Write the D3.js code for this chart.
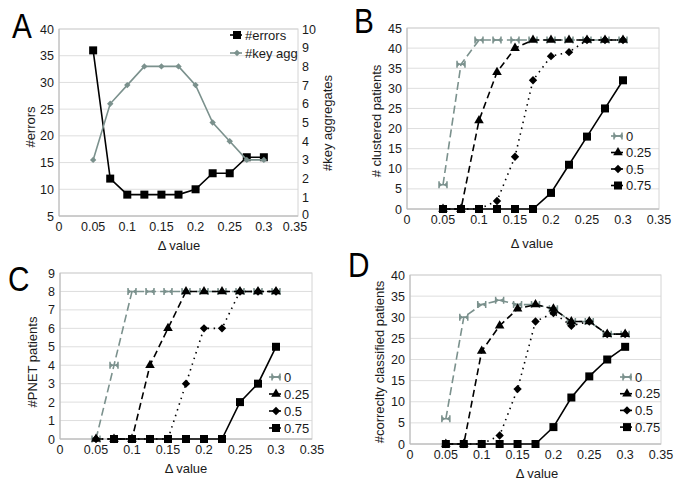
<!DOCTYPE html>
<html><head><meta charset="utf-8">
<script src="https://cdn.jsdelivr.net/npm/d3@7"></script>
<style>
html,body{margin:0;padding:0;background:#fff;}
text{font-family:"Liberation Sans",Arial,sans-serif;fill:#1a1a1a;}
</style></head>
<body>
<svg id="chart" width="685" height="484"></svg>
<script>
// ---------- data ----------
const deltaValues = [0.05,0.075,0.1,0.125,0.15,0.175,0.2,0.225,0.25,0.275,0.3];
const xTicks = [0,0.05,0.1,0.15,0.2,0.25,0.3,0.35];

// Panel A
const errors = [36,12,9,9,9,9,10,13,13,16,16];
const keyAgg = [3,6,7,8,8,8,7,5,4,3,3];
const errorsTicks = [5,10,15,20,25,30,35,40];
const keyAggTicks = [0,1,2,3,4,5,6,7,8,9,10];

// Series names (panels B, C, D)
const seriesNames = ["0","0.25","0.5","0.75"];

// Panel B
const clustered0   = [6,36,42,42,42,42,42,42,42,42,42];
const clustered025 = [0,0,22,34,40,42,42,42,42,42,42];
const clustered05  = [0,0,0,2,13,32,38,39,42,42,42];
const clustered075 = [0,0,0,0,0,0,4,11,18,25,32];
const clusteredTicks = [0,5,10,15,20,25,30,35,40,45];

// Panel C
const pnet0   = [0,4,8,8,8,8,8,8,8,8,8];
const pnet025 = [0,0,0,4,6,8,8,8,8,8,8];
const pnet05  = [0,0,0,0,0,3,6,6,8,8,8];
const pnet075 = [null,0,0,0,0,0,0,0,2,3,5];
const pnetTicks = [0,1,2,3,4,5,6,7,8,9];

// Panel D
const correct0   = [6,30,33,34,33,33,32,29,29,26,26];
const correct025 = [0,0,22,28,32,33,32,29,29,26,26];
const correct05  = [0,0,0,2,13,29,31,28,29,26,26];
const correct075 = [0,0,0,0,0,0,4,11,16,20,23];
const correctTicks = [0,5,10,15,20,25,30,35,40];

// ---------- styles ----------
const GRAY = "#7b918d";
const styleOf = {
  "0":    {color: GRAY, dash: "8,4", marker: "bowtie"},
  "0.25": {color: "#000", dash: "7,4", marker: "triangle"},
  "0.5":  {color: "#000", dash: "1.5,4.5", marker: "diamond"},
  "0.75": {color: "#000", dash: null, marker: "square"}
};

const svg = d3.select("#chart");
const fmt = v => String(+v.toFixed(2));

function drawMarker(g, type, x, y, color, size) {
  size = size || 1;
  if (type === "square") {
    const s = 8*size;
    g.append("rect").attr("x", x - s/2).attr("y", y - s/2).attr("width", s).attr("height", s).attr("fill", color);
  } else if (type === "triangle") {
    g.append("path").attr("d", d3.symbol().type(d3.symbolTriangle).size(40*size)()).attr("transform", `translate(${x},${y})`).attr("fill", color);
  } else if (type === "diamond") {
    const s = 4.2*size;
    g.append("path").attr("d", `M0,${-s}L${s},0L0,${s}L${-s},0Z`).attr("transform", `translate(${x},${y})`).attr("fill", color);
  } else if (type === "smalldiamond") {
    const s = 3.2*size;
    g.append("path").attr("d", `M0,${-s}L${s},0L0,${s}L${-s},0Z`).attr("transform", `translate(${x},${y})`).attr("fill", color);
  } else if (type === "bowtie") {
    g.append("path").attr("d", "M-4,-3.5L-4,3.5M4,-3.5L4,3.5M-4,0L4,0")
      .attr("transform", `translate(${x},${y})`).attr("stroke", color).attr("stroke-width", 1.5).attr("fill", "none");
    g.append("path").attr("d", "M-4,-2.5L-0.5,0L-4,2.5ZM4,-2.5L0.5,0L4,2.5Z")
      .attr("transform", `translate(${x},${y})`).attr("fill", color);
  }
}

function panel(cfg) {
  const x = d3.scaleLinear().domain([0,0.35]).range([cfg.left, cfg.right]);
  const y = d3.scaleLinear().domain([cfg.yTicks[0], cfg.yTicks[cfg.yTicks.length-1]]).range([cfg.bottom, cfg.top]);
  const g = svg.append("g");

  // gridlines
  g.selectAll(".grid").data(cfg.yTicks).join("line")
    .attr("x1", cfg.left).attr("x2", cfg.right)
    .attr("y1", d => y(d)).attr("y2", d => y(d))
    .attr("stroke", "#dedede").attr("stroke-width", 1);
  // plot border
  g.append("rect").attr("x", cfg.left).attr("y", cfg.top)
    .attr("width", cfg.right - cfg.left).attr("height", cfg.bottom - cfg.top)
    .attr("fill", "none").attr("stroke", "#d4d4d4");
  // axes lines
  g.append("line").attr("x1", cfg.left).attr("x2", cfg.left).attr("y1", cfg.top).attr("y2", cfg.bottom).attr("stroke", "#b8b8b8");
  g.append("line").attr("x1", cfg.left).attr("x2", cfg.right).attr("y1", cfg.bottom).attr("y2", cfg.bottom).attr("stroke", "#b8b8b8");

  // y tick labels
  g.selectAll(".yl").data(cfg.yTicks).join("text")
    .attr("x", cfg.left - 5).attr("y", d => y(d) + 4.5)
    .attr("text-anchor", "end").attr("font-size", 12.5).text(d => d);
  // x tick labels
  g.selectAll(".xl").data(xTicks).join("text")
    .attr("x", d => x(d) - (cfg.y2Ticks && d === 0.35 ? 3 : 0)).attr("y", cfg.bottom + 15)
    .attr("text-anchor", "middle").attr("font-size", 12.5).text(fmt);

  // right axis
  let y2 = null;
  if (cfg.y2Ticks) {
    y2 = d3.scaleLinear().domain([cfg.y2Ticks[0], cfg.y2Ticks[cfg.y2Ticks.length-1]]).range([cfg.bottom, cfg.top]);
    g.selectAll(".y2l").data(cfg.y2Ticks).join("text")
      .attr("x", cfg.right + 4).attr("y", d => y2(d) + (d === 0 ? 3 : 4.5))
      .attr("text-anchor", "start").attr("font-size", 12.5).text(d => d);
    g.append("text").attr("font-size", 13).attr("text-anchor", "middle")
      .attr("transform", `translate(${cfg.y2TitleX},${cfg.y2TitleY}) rotate(-90)`).text(cfg.y2Title);
  }

  // titles
  g.append("text").attr("font-size", 13).attr("text-anchor", "middle")
    .attr("transform", `translate(${cfg.yTitleX},${cfg.yTitleY}) rotate(-90)`).text(cfg.yTitle);
  g.append("text").attr("font-size", 13).attr("text-anchor", "middle")
    .attr("x", cfg.xTitleX).attr("y", cfg.xTitleY).text("Δ value");
  g.append("text")
    .attr("transform", `translate(${cfg.letterX},${cfg.letterY}) scale(0.85,1)`)
    .attr("font-size", 35).style("font-family", '"Liberation Sans",Arial,sans-serif')
    .style("fill", "#000").text(cfg.letter);

  // series
  cfg.series.forEach(s => {
    const sc = s.axis === 2 ? y2 : y;
    const pts = deltaValues.map((d,i) => [d, s.values[i]]).filter(p => p[1] !== null);
    const line = d3.line().x(p => x(p[0])).y(p => sc(p[1]));
    const path = g.append("path").attr("d", line(pts)).attr("fill", "none")
      .attr("stroke", s.color).attr("stroke-width", s.width || 1.6);
    if (s.dash) path.attr("stroke-dasharray", s.dash);
    const mg = g.append("g");
    pts.forEach(p => drawMarker(mg, s.marker, x(p[0]), sc(p[1]), s.color));
  });

  // legend
  cfg.series.forEach((s, i) => {
    const ly = cfg.legendY + i * cfg.legendStep;
    const lg = g.append("g");
    lg.append("line").attr("x1", cfg.legendX - 7).attr("x2", cfg.legendX + 5)
      .attr("y1", ly).attr("y2", ly).attr("stroke", s.color).attr("stroke-width", 1.6);
    drawMarker(lg, s.marker, cfg.legendX, ly, s.color);
    lg.append("text").attr("x", cfg.legendX + 8).attr("y", ly + 4.5).attr("font-size", 13).text(s.name);
  });
}

function fourSeries(vals) {
  return seriesNames.map((n, i) => Object.assign({name: n, values: vals[i]}, styleOf[n]));
}

// Panel A
panel({
  letter: "A", letterX: 12, letterY: 38,
  left: 59, right: 298, top: 29, bottom: 216,
  yTicks: errorsTicks, y2Ticks: keyAggTicks,
  yTitle: "#errors", yTitleX: 35, yTitleY: 127,
  y2Title: "#key aggregates", y2TitleX: 332, y2TitleY: 123,
  xTitleX: 179, xTitleY: 250,
  legendX: 237, legendY: 35, legendStep: 18,
  series: [
    {name: "#errors", values: errors, color: "#000", dash: null, marker: "square", axis: 1},
    {name: "#key agg", values: keyAgg, color: GRAY, dash: null, marker: "smalldiamond", axis: 2}
  ]
});

// Panel B
panel({
  letter: "B", letterX: 354, letterY: 33,
  left: 407, right: 659, top: 28, bottom: 209,
  yTicks: clusteredTicks,
  yTitle: "# clustered patients", yTitleX: 381, yTitleY: 121,
  xTitleX: 532, xTitleY: 248,
  legendX: 618, legendY: 136, legendStep: 16.5,
  series: fourSeries([clustered0, clustered025, clustered05, clustered075])
});

// Panel C
panel({
  letter: "C", letterX: 8, letterY: 291,
  left: 60, right: 312, top: 273, bottom: 439,
  yTicks: pnetTicks,
  yTitle: "#PNET patients", yTitleX: 37, yTitleY: 362,
  xTitleX: 186, xTitleY: 473,
  legendX: 276, legendY: 377, legendStep: 17,
  series: fourSeries([pnet0, pnet025, pnet05, pnet075])
});

// Panel D
panel({
  letter: "D", letterX: 348, letterY: 277,
  left: 410, right: 661, top: 275, bottom: 444,
  yTicks: correctTicks,
  yTitle: "#correclty classified patients", yTitleX: 384, yTitleY: 362,
  xTitleX: 537, xTitleY: 478,
  legendX: 627, legendY: 377, legendStep: 16.7,
  series: fourSeries([correct0, correct025, correct05, correct075])
});
</script>
</body></html>
